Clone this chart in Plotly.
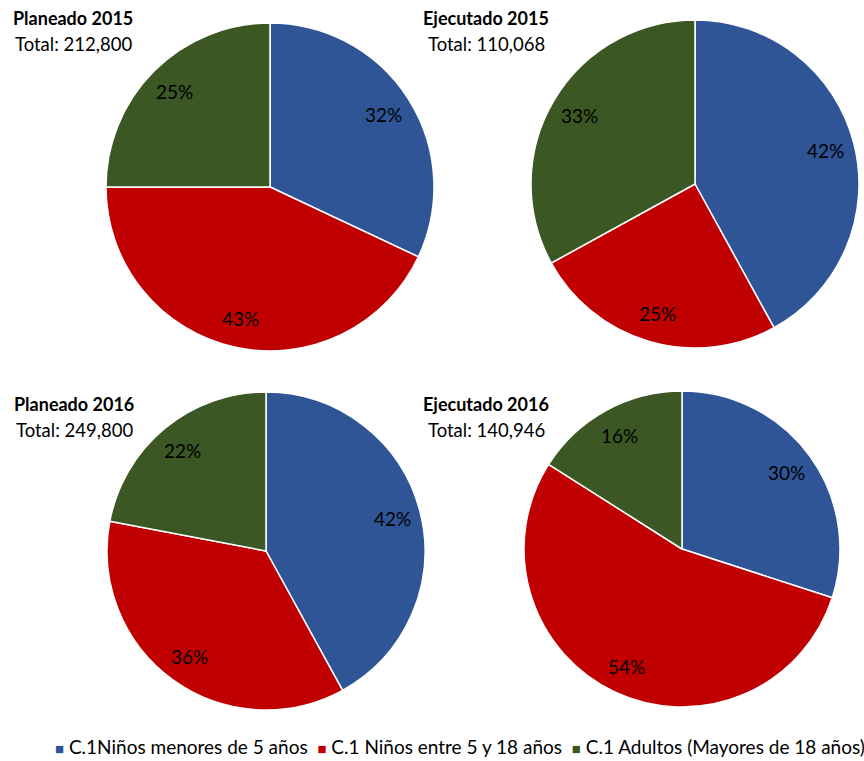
import math
import plotly.graph_objects as go

categories = ["C.1Niños menores de 5 años", "C.1 Niños entre 5 y 18 años", "C.1 Adultos (Mayores de 18 años)"]
titles = ["Planeado 2015", "Ejecutado 2015", "Planeado 2016", "Ejecutado 2016"]
totals = ["212,800", "110,068", "249,800", "140,946"]
planeado_2015 = [32, 43, 25]
ejecutado_2015 = [42, 25, 33]
planeado_2016 = [42, 36, 22]
ejecutado_2016 = [30, 54, 16]
series = [planeado_2015, ejecutado_2015, planeado_2016, ejecutado_2016]

colors = ["#2F5597", "#C00000", "#3B5724"]
FONT = "Lato"
W, H = 864, 761

# pie geometry in pixels: centre x, centre y, radius
geom = [(270, 187, 164), (695, 184, 164), (266, 551, 159), (682, 549, 158)]
# title positions (centre x, y of first line)
title_pos = [(73, 18), (486, 18), (74, 404), (486, 404)]

fig = go.Figure()
annotations = []
for vals, (cx, cy, r), ttl, tot, (tx, ty) in zip(series, geom, titles, totals, title_pos):
    fig.add_trace(go.Pie(
        labels=categories, values=vals, sort=False, direction="clockwise", rotation=0,
        marker=dict(colors=colors, line=dict(color="white", width=1.5)),
        textinfo="none", hoverinfo="label+percent", showlegend=False,
        domain=dict(x=[(cx - r) / W, (cx + r) / W], y=[1 - (cy + r) / H, 1 - (cy - r) / H]),
    ))
    total = sum(vals)
    cum = 0
    for v in vals:
        mid = (cum + v / 2) / total * 2 * math.pi
        cum += v
        px = cx + 0.82 * r * math.sin(mid)
        py = cy - 0.82 * r * math.cos(mid)
        annotations.append(dict(
            x=px / W, y=1 - py / H, xref="paper", yref="paper", showarrow=False,
            text=f"{round(v / total * 100)}%", font=dict(family=FONT, size=19, color="#000"),
            xanchor="center", yanchor="middle"))
    annotations.append(dict(x=tx / W, y=1 - ty / H, xref="paper", yref="paper", showarrow=False,
                            text=f"<b>{ttl}</b>", font=dict(family=FONT, size=18, color="#000"),
                            xanchor="center", yanchor="middle"))
    annotations.append(dict(x=tx / W, y=1 - (ty + 26) / H, xref="paper", yref="paper", showarrow=False,
                            text=f"Total: {tot}", font=dict(family=FONT, size=18.5, color="#000"),
                            xanchor="center", yanchor="middle"))

legend_parts = []
for c, lab in zip(colors, categories):
    legend_parts.append(f"<span style='color:{c};font-size:15px'>■</span> {lab}")
annotations.append(dict(x=459.5 / W, y=1 - 746 / H, xref="paper", yref="paper", showarrow=False,
                        text="  ".join(legend_parts), font=dict(family=FONT, size=19, color="#000"),
                        xanchor="center", yanchor="middle"))

fig.update_layout(
    width=W, height=H, margin=dict(l=0, r=0, t=0, b=0),
    paper_bgcolor="white", plot_bgcolor="white",
    annotations=annotations, showlegend=False,
)
fig.write_html("out.html")
